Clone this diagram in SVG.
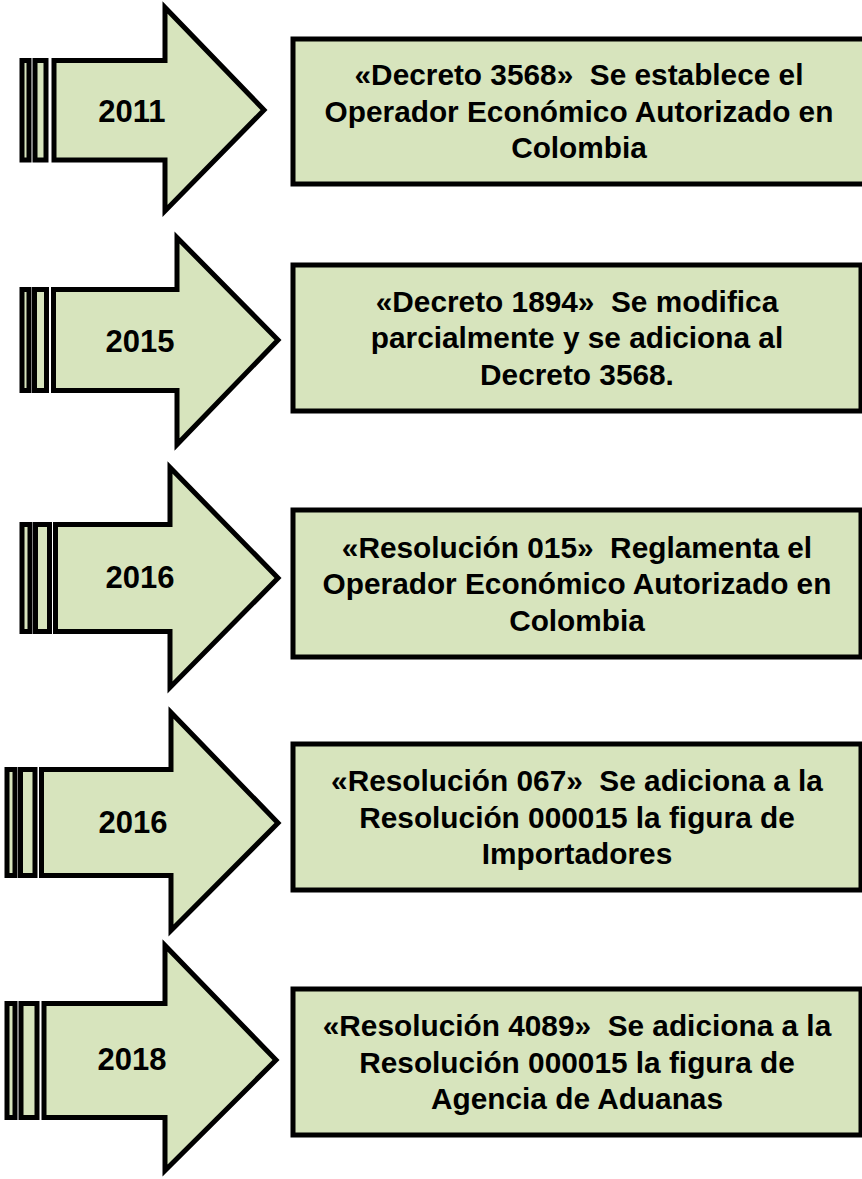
<svg xmlns="http://www.w3.org/2000/svg" width="862" height="1179" viewBox="0 0 862 1179">
<style>
.shape{fill:#d7e4bd;stroke:#000;stroke-width:5;stroke-linejoin:miter}
.box{fill:#d7e4bd;stroke:#000;stroke-width:5}
.yr{font-family:"Liberation Sans",Arial,sans-serif;font-weight:bold;font-size:31px;fill:#000;text-anchor:middle}
.tx{font-family:"Liberation Sans",Arial,sans-serif;font-weight:bold;font-size:29.8px;fill:#000;text-anchor:middle;white-space:pre}
</style>
<rect width="862" height="1179" fill="#fff"/>

<g id="arrow1">
<rect class="shape" x="22" y="60.5" width="7" height="99.5"/>
<rect class="shape" x="35" y="60.5" width="11" height="99.5"/>
<path class="shape" d="M54 60.5 H165 V7.5 L264 110 L165 211 V160 H54 Z"/>
<text class="yr" x="132" y="122">2011</text>
</g>
<g id="box1">
<rect class="box" x="293" y="39" width="575" height="145"/>
<text class="tx" x="579" y="85">«Decreto 3568»  Se establece el</text>
<text class="tx" x="579" y="121.5">Operador Económico Autorizado en</text>
<text class="tx" x="579" y="158">Colombia</text>
</g>

<g id="arrow2">
<rect class="shape" x="22" y="289.5" width="7" height="101"/>
<rect class="shape" x="34.5" y="289.5" width="12" height="101"/>
<path class="shape" d="M53.5 289.5 H177 V237.5 L278 340 L177 444.5 V390.5 H53.5 Z"/>
<text class="yr" x="140" y="352">2015</text>
</g>
<g id="box2">
<rect class="box" x="293" y="265" width="568" height="146"/>
<text class="tx" x="577" y="311.5">«Decreto 1894»  Se modifica</text>
<text class="tx" x="577" y="348">parcialmente y se adiciona al</text>
<text class="tx" x="577" y="384.5">Decreto 3568.</text>
</g>

<g id="arrow3">
<rect class="shape" x="22" y="524.5" width="8" height="107"/>
<rect class="shape" x="35.5" y="524.5" width="14" height="107"/>
<path class="shape" d="M55.5 524.5 H170 V467.5 L278 578 L170 687.5 V631.5 H55.5 Z"/>
<text class="yr" x="140" y="588">2016</text>
</g>
<g id="box3">
<rect class="box" x="293" y="510" width="568" height="147"/>
<text class="tx" x="577" y="557.5">«Resolución 015»  Reglamenta el</text>
<text class="tx" x="577" y="594">Operador Económico Autorizado en</text>
<text class="tx" x="577" y="630.5">Colombia</text>
</g>

<g id="arrow4">
<rect class="shape" x="7" y="769.5" width="8" height="106"/>
<rect class="shape" x="20.5" y="769.5" width="14.5" height="106"/>
<path class="shape" d="M41.5 769.5 H171 V712.5 L278 823 L171 930.5 V875.5 H41.5 Z"/>
<text class="yr" x="133" y="833">2016</text>
</g>
<g id="box4">
<rect class="box" x="293" y="744" width="568" height="146"/>
<text class="tx" x="577" y="791">«Resolución 067»  Se adiciona a la</text>
<text class="tx" x="577" y="827.5">Resolución 000015 la figura de</text>
<text class="tx" x="577" y="864">Importadores</text>
</g>

<g id="arrow5">
<rect class="shape" x="7" y="1003.5" width="8" height="114"/>
<rect class="shape" x="21" y="1003.5" width="16" height="114"/>
<path class="shape" d="M44 1003.5 H165 V945.5 L276 1060 L165 1170.5 V1117.5 H44 Z"/>
<text class="yr" x="132" y="1070">2018</text>
</g>
<g id="box5">
<rect class="box" x="293" y="989" width="568" height="146"/>
<text class="tx" x="577" y="1036">«Resolución 4089»  Se adiciona a la</text>
<text class="tx" x="577" y="1072.5">Resolución 000015 la figura de</text>
<text class="tx" x="577" y="1109">Agencia de Aduanas</text>
</g>

<g id="connectors"/>
</svg>
